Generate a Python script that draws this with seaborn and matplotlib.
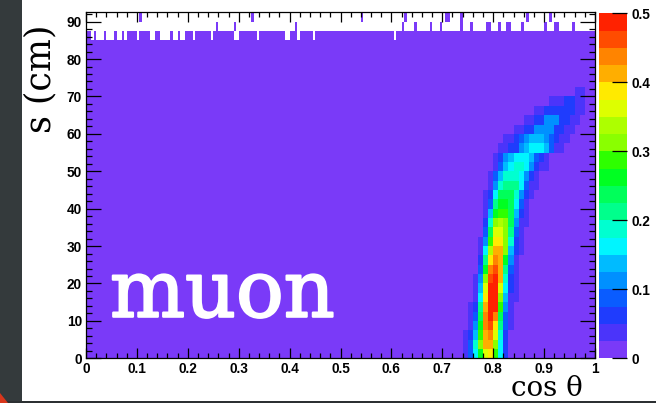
import numpy as np
import matplotlib
matplotlib.use("Agg")
import matplotlib.pyplot as plt
import matplotlib.patheffects as pe
from matplotlib.colors import ListedColormap
from matplotlib.patches import Rectangle, Polygon
import seaborn as sns

# ---- histogram binning -------------------------------------------------
cos_min, cos_max, n_cos = 0.0, 1.0, 200
s_min, s_max, n_s = 0.0, 92.5, 37

# content of every populated cell away from the track band
floor_value = 0.008

# track band: one list per 2.5 cm row of s (row 0 = lowest s),
# first cell index and cell contents in steps of 0.01 in cos(theta)
band_start = [74, 74, 74, 75, 75, 75, 76, 76, 76, 77, 77, 77, 77, 78, 78,
              78, 78, 78, 79, 79, 80, 80, 81, 82, 84, 86, 88, 91, 96]
band_values = [
    [0.04, 0.09, 0.16, 0.26, 0.36, 0.39, 0.29, 0.16, 0.06],
    [0.04, 0.09, 0.19, 0.31, 0.41, 0.41, 0.31, 0.16, 0.06],
    [0.04, 0.06, 0.14, 0.29, 0.41, 0.44, 0.36, 0.19, 0.06],
    [0.04, 0.11, 0.26, 0.44, 0.46, 0.39, 0.21, 0.09, 0.04],
    [0.04, 0.09, 0.24, 0.44, 0.49, 0.44, 0.24, 0.09, 0.04],
    [0.04, 0.06, 0.21, 0.41, 0.49, 0.49, 0.29, 0.11, 0.04],
    [0.04, 0.16, 0.39, 0.49, 0.49, 0.31, 0.14, 0.04, 0.04],
    [0.04, 0.14, 0.36, 0.49, 0.49, 0.36, 0.16, 0.06, 0.04],
    [0.04, 0.11, 0.31, 0.46, 0.49, 0.41, 0.19, 0.06, 0.04],
    [0.09, 0.26, 0.44, 0.46, 0.41, 0.21, 0.09, 0.04],
    [0.06, 0.21, 0.39, 0.44, 0.41, 0.26, 0.11, 0.04],
    [0.04, 0.16, 0.34, 0.41, 0.41, 0.31, 0.14, 0.06, 0.04],
    [0.04, 0.11, 0.29, 0.39, 0.39, 0.31, 0.19, 0.06, 0.04],
    [0.09, 0.24, 0.36, 0.36, 0.31, 0.21, 0.09, 0.04],
    [0.06, 0.19, 0.31, 0.34, 0.31, 0.24, 0.11, 0.04, 0.04],
    [0.04, 0.14, 0.26, 0.29, 0.29, 0.24, 0.14, 0.06, 0.04],
    [0.04, 0.09, 0.21, 0.26, 0.26, 0.24, 0.16, 0.09, 0.04],
    [0.04, 0.06, 0.16, 0.24, 0.24, 0.24, 0.19, 0.11, 0.06, 0.04],
    [0.04, 0.11, 0.19, 0.21, 0.21, 0.21, 0.16, 0.09, 0.04, 0.04],
    [0.04, 0.09, 0.14, 0.19, 0.19, 0.19, 0.16, 0.11, 0.06, 0.04],
    [0.04, 0.09, 0.14, 0.16, 0.19, 0.19, 0.16, 0.11, 0.06, 0.04, 0.04],
    [0.04, 0.06, 0.11, 0.14, 0.16, 0.16, 0.16, 0.14, 0.09, 0.06, 0.04],
    [0.04, 0.04, 0.06, 0.06, 0.11, 0.14, 0.16, 0.16, 0.16, 0.14, 0.09, 0.04, 0.04],
    [0.04, 0.04, 0.06, 0.09, 0.11, 0.14, 0.14, 0.14, 0.11, 0.09, 0.06, 0.04, 0.04],
    [0.04, 0.04, 0.06, 0.06, 0.11, 0.11, 0.11, 0.11, 0.06, 0.06, 0.04, 0.04],
    [0.04, 0.04, 0.06, 0.06, 0.11, 0.11, 0.11, 0.06, 0.06, 0.04, 0.04],
    [0.04, 0.04, 0.06, 0.06, 0.06, 0.06, 0.06, 0.06, 0.04, 0.04],
    [0.04, 0.04, 0.04, 0.06, 0.06, 0.04, 0.04],
    [0.04, 0.04],
]

# sparse upper edge (rows 85-87.5, 87.5-90, 90-92.5 cm), fine cell indices
row34_empty = [2, 4, 5, 6, 8, 9, 10, 12, 13, 15, 20, 25, 26, 29, 30, 31, 32,
               34, 35, 37, 38, 42, 49, 58, 59, 67, 78, 79, 83, 89, 121]
row35_filled = [51, 58, 82, 124, 129, 135, 139, 147, 151, 157, 158, 162,
                165, 166, 171, 180, 184, 185, 191]
row36_filled = [21, 65, 108, 125, 141, 142, 147, 173, 182]

# axis ticks
x_ticks = [0.0, 0.1, 0.2, 0.3, 0.4, 0.5, 0.6, 0.7, 0.8, 0.9, 1.0]
x_tick_labels = ["0", "0.1", "0.2", "0.3", "0.4", "0.5", "0.6", "0.7", "0.8", "0.9", "1"]
y_ticks = [0, 10, 20, 30, 40, 50, 60, 70, 80, 90]
y_tick_labels = ["0", "10", "20", "30", "40", "50", "60", "70", "80", "90"]
z_ticks = [0.0, 0.1, 0.2, 0.3, 0.4, 0.5]
z_tick_labels = ["0", "0.1", "0.2", "0.3", "0.4", "0.5"]

# 20-step violet-to-red palette, 0.025 per step
palette_colors = [
    "#7a3af8", "#4b34fa", "#1f3cfd", "#0a5cff", "#0090ff",
    "#00bbff", "#00f5ff", "#00ffd0", "#00ff8c", "#00ff5a",
    "#00ff22", "#2eff00", "#8aff00", "#adff00", "#ddff00",
    "#ffea00", "#ffae00", "#ff8400", "#ff4c00", "#ff2200",
]

# ---- build the 2D histogram ------------------------------------------------
fine = n_cos // 100
grid = np.full((n_s, n_cos), floor_value)
grid[34:, :] = np.nan
grid[34, :] = floor_value
grid[34, row34_empty] = np.nan
grid[35, row35_filled] = floor_value
grid[36, row36_filled] = floor_value
for r, (start, vals) in enumerate(zip(band_start, band_values)):
    cells = np.repeat(vals, fine)
    grid[r, fine * start: fine * start + len(cells)] = cells

# ---- figure ------------------------------------------------------------------
W, H = 656, 403
fig = plt.figure(figsize=(W / 100, H / 100), dpi=100)
fig.patch.set_facecolor("white")

def box(x0, y0, x1, y1):
    return [x0 / W, 1 - y1 / H, (x1 - x0) / W, (y1 - y0) / H]

ax = fig.add_axes(box(86, 12.3, 595, 358.3))
cax = fig.add_axes(box(599, 13.3, 627, 358.3))
ax.set_facecolor("white")

cmap = ListedColormap(palette_colors)
sns.heatmap(grid, ax=ax, cbar_ax=cax, cmap=cmap, vmin=0.0, vmax=0.5,
            xticklabels=False, yticklabels=False)

ax.set_xlim(0, n_cos)
ax.set_ylim(0, n_s)
for sp in ax.spines.values():
    sp.set_visible(True)
    sp.set_color("black")
    sp.set_linewidth(0.9)

xs = n_cos / (cos_max - cos_min)
ys = n_s / (s_max - s_min)
tick_font = dict(family=["Liberation Sans", "DejaVu Sans"], fontweight="bold", fontsize=9.8)

ax.set_xticks([t * xs for t in x_ticks])
ax.set_xticklabels(x_tick_labels, **tick_font)
ax.set_xticks(np.arange(0, 1.0001, 0.02) * xs, minor=True)
ax.set_yticks([t * ys for t in y_ticks])
ax.set_yticklabels(y_tick_labels, rotation=0, **tick_font)
ax.set_yticks(np.arange(0, 92.5, 2.0) * ys, minor=True)

ax.tick_params(axis="x", which="major", direction="in", length=7.2, width=0.9,
               top=True, bottom=True, pad=2.8, colors="black")
ax.tick_params(axis="x", which="minor", direction="in", length=3.6, width=0.9,
               top=True, bottom=True)
ax.tick_params(axis="y", which="major", direction="in", length=10.5, width=0.9,
               left=True, right=True, pad=3.0, colors="black")
ax.tick_params(axis="y", which="minor", direction="in", length=4.6, width=0.9,
               left=True, right=True)

cbar = ax.collections[0].colorbar
cbar.outline.set_visible(False)
cbar.set_ticks(z_ticks)
cbar.set_ticklabels(z_tick_labels)
cbar.minorticks_off()
cax.tick_params(direction="in", length=10.5, width=0.9, right=True, left=False,
                pad=3.6, colors="black")
for t in cax.get_yticklabels():
    t.set_fontweight("bold")
    t.set_fontsize(9.8)
    t.set_family(["Liberation Sans", "DejaVu Sans"])

# axis titles and the particle label
serif = ["DejaVu Serif"]
fig.text(40 / W, 1 - 78.5 / H, "s (cm)", rotation=90, ha="center", va="center",
         fontsize=25, family=serif, color="black")
fig.text(583 / W, 1 - 396.4 / H, "cos θ", ha="right", va="baseline",
         fontsize=20, family=serif, color="black")
fig.text(110 / W, 1 - 316.7 / H, "muon", ha="left", va="baseline",
         fontsize=57, family=serif, color="white",
         path_effects=[pe.withStroke(linewidth=1.6, foreground="white")])

# slide surround
fig.add_artist(Rectangle((0, 0), 22 / W, 1, transform=fig.transFigure,
                         facecolor="#343a3c", edgecolor="none"))
fig.add_artist(Rectangle((0, 0), 1, 2 / H, transform=fig.transFigure,
                         facecolor="#2c3032", edgecolor="none"))
fig.add_artist(Polygon([(0, 0), (8 / W, 0), (0, 10 / H)], closed=True,
                       transform=fig.transFigure, facecolor="#d8361c",
                       edgecolor="none"))

fig.savefig("out.png", dpi=100, facecolor=fig.get_facecolor())
